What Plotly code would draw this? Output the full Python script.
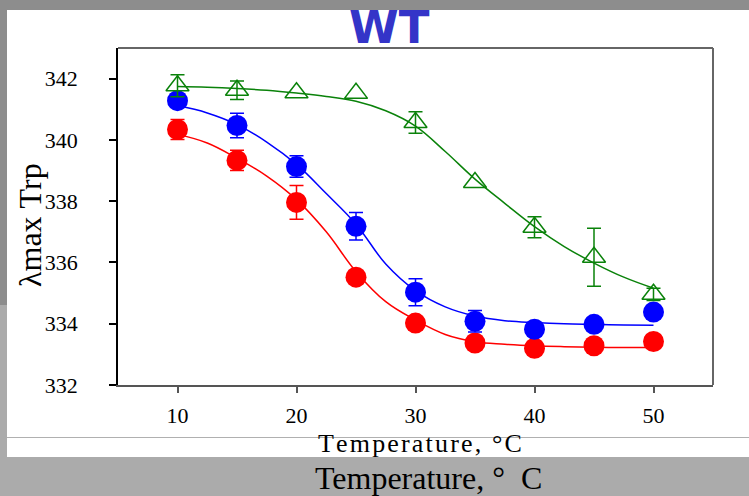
import plotly.graph_objects as go

# ---------------- data ----------------
temps = [10, 15, 20, 25, 30, 35, 40, 45, 50]

blue_vals = [341.28, 340.47, 339.13, 337.18, 335.03, 334.08, 333.82, 333.98, 334.38]
blue_err = [0.15, 0.40, 0.35, 0.45, 0.44, 0.35, 0.0, 0.0, 0.0]

red_vals = [340.34, 339.33, 337.96, 335.52, 334.02, 333.37, 333.20, 333.28, 333.42]
red_err = [0.33, 0.33, 0.55, 0.20, 0.15, 0.10, 0.10, 0.10, 0.10]

green_vals = [341.77, 341.62, 341.54, 341.52, 340.57, 338.61, 337.15, 336.17, 334.96]
green_err = [0.36, 0.30, 0.0, 0.0, 0.35, 0.0, 0.34, 0.95, 0.20]

fit_temps = [10, 12.5, 15, 17.5, 20, 22.5, 25, 27.5, 30, 32.5, 35, 37.5, 40, 42.5, 45, 47.5, 50]
blue_fit = [341.12, 340.88, 340.50, 339.93, 339.20, 338.25, 337.25, 335.95, 335.08, 334.55,
            334.25, 334.10, 334.04, 334.00, 333.98, 333.96, 333.95]
red_fit = [340.18, 339.90, 339.40, 338.82, 338.05, 337.00, 335.70, 334.72, 334.12, 333.65,
           333.41, 333.33, 333.28, 333.25, 333.23, 333.22, 333.22]
green_fit = [341.74, 341.72, 341.68, 341.62, 341.53, 341.42, 341.26, 340.95, 340.45, 339.62,
             338.72, 337.93, 337.17, 336.52, 335.98, 335.52, 335.16]

x_ticks = [10, 20, 30, 40, 50]
y_ticks = [332, 334, 336, 338, 340, 342]

title_text = "WT"
y_title = "λmax Trp"
x_title = "Temperature, °C"
bottom_text = "Temperature, °\u00a0\u00a0C"

# ---------------- layout geometry ----------------
W, H = 749, 496
L, R, T, B = 118, 36, 48, 111
PW, PH = W - L - R, H - T - B


def px_x(p):
    return (p - L) / PW


def px_y(p):
    return (H - B - p) / PH


SERIF = "Liberation Serif, Times New Roman, serif"
BLUE, RED, GREEN = "#0000ff", "#ff0000", "#0a820a"

fig = go.Figure()


def add_series(vals, errs, fit, color, symbol, size, name):
    # fitted curve
    fig.add_trace(go.Scatter(x=fit_temps, y=fit, mode="lines",
                             line=dict(color=color, width=1.5, shape="spline", smoothing=1.1),
                             showlegend=False, hoverinfo="skip", name=name + " fit"))
    # error bars (only where present)
    ex = [t for t, e in zip(temps, errs) if e > 0]
    ey = [v for v, e in zip(vals, errs) if e > 0]
    ee = [e for e in errs if e > 0]
    fig.add_trace(go.Scatter(x=ex, y=ey, mode="markers",
                             marker=dict(size=1, opacity=0),
                             error_y=dict(type="data", array=ee, visible=True,
                                          color=color, thickness=1.5, width=7),
                             showlegend=False, hoverinfo="skip", name=name + " err"))
    # markers
    if symbol.endswith("open"):
        marker = dict(symbol=symbol, size=size, color=color, line=dict(color=color, width=1.5))
    else:
        marker = dict(symbol=symbol, size=size, color=color, line=dict(width=0))
    fig.add_trace(go.Scatter(x=temps, y=vals, mode="markers", marker=marker,
                             showlegend=False, name=name))


add_series(red_vals, red_err, red_fit, RED, "circle", 21, "red")
add_series(blue_vals, blue_err, blue_fit, BLUE, "circle", 21, "blue")
add_series(green_vals, green_err, green_fit, GREEN, "triangle-up-open", 20, "green")

shapes = [
    # dark top band
    dict(type="rect", xref="paper", yref="paper", x0=px_x(0), x1=px_x(W), y0=px_y(10), y1=px_y(0),
         fillcolor="#8d8d8d", line=dict(width=0), layer="below"),
    # dark left strip (upper part)
    dict(type="rect", xref="paper", yref="paper", x0=px_x(0), x1=px_x(7), y0=px_y(305), y1=px_y(0),
         fillcolor="#8d8d8d", line=dict(width=0), layer="below"),
    # white panel
    dict(type="rect", xref="paper", yref="paper", x0=px_x(7), x1=px_x(W), y0=px_y(457), y1=px_y(10),
         fillcolor="white", line=dict(width=0), layer="below"),
    # thin separator line
    dict(type="line", xref="paper", yref="paper", x0=px_x(7), x1=px_x(W), y0=px_y(437.5), y1=px_y(437.5),
         line=dict(color="#b0b0b0", width=1), layer="below"),
    # top and right frame
    dict(type="line", xref="paper", yref="paper", x0=0, x1=1, y0=1, y1=1,
         line=dict(color="#666666", width=2)),
    dict(type="line", xref="paper", yref="paper", x0=1, x1=1, y0=0, y1=1,
         line=dict(color="#666666", width=2)),
]

hs = "\u200a"
x_title_spaced = hs.join(list(x_title))
y_title_text = y_title.replace(" ", "\u00a0")

annotations = [
    dict(text=title_text, xref="paper", yref="paper", x=px_x(389), y=px_y(28),
         xanchor="center", yanchor="middle", showarrow=False,
         font=dict(family="DejaVu Sans", size=45, color="#3434c8", weight="bold")),
    dict(text=y_title_text, xref="paper", yref="paper", x=px_x(30), y=px_y(225),
         xanchor="center", yanchor="middle", showarrow=False, textangle=-90,
         font=dict(family=SERIF, size=32, color="black")),
    dict(text=x_title_spaced, xref="paper", yref="paper", x=px_x(420), y=px_y(443),
         xanchor="center", yanchor="middle", showarrow=False,
         font=dict(family=SERIF, size=26, color="black")),
    dict(text=bottom_text, xref="paper", yref="paper", x=px_x(428), y=px_y(478),
         xanchor="center", yanchor="middle", showarrow=False,
         font=dict(family=SERIF, size=32, color="black")),
]

fig.update_layout(
    width=W, height=H,
    margin=dict(l=L, r=R, t=T, b=B, pad=0),
    paper_bgcolor="#ababab",
    plot_bgcolor="rgba(0,0,0,0)",
    shapes=shapes,
    annotations=annotations,
    showlegend=False,
    xaxis=dict(range=[5, 55], tickvals=x_ticks, ticktext=[str(v) for v in x_ticks],
               ticks="outside", ticklen=6, tickwidth=1.5, tickcolor="#555555",
               showline=True, linecolor="#555555", linewidth=1.5,
               showgrid=False, zeroline=False, ticklabelstandoff=4,
               tickfont=dict(family=SERIF, size=22, color="black")),
    yaxis=dict(range=[332, 343], tickvals=y_ticks, ticktext=[str(v) for v in y_ticks],
               ticks="outside", ticklen=7, tickwidth=1.5, tickcolor="black",
               showline=True, linecolor="black", linewidth=1.5,
               showgrid=False, zeroline=False, ticklabelstandoff=27,
               tickfont=dict(family=SERIF, size=22, color="black")),
)

fig.write_html("out.html")
